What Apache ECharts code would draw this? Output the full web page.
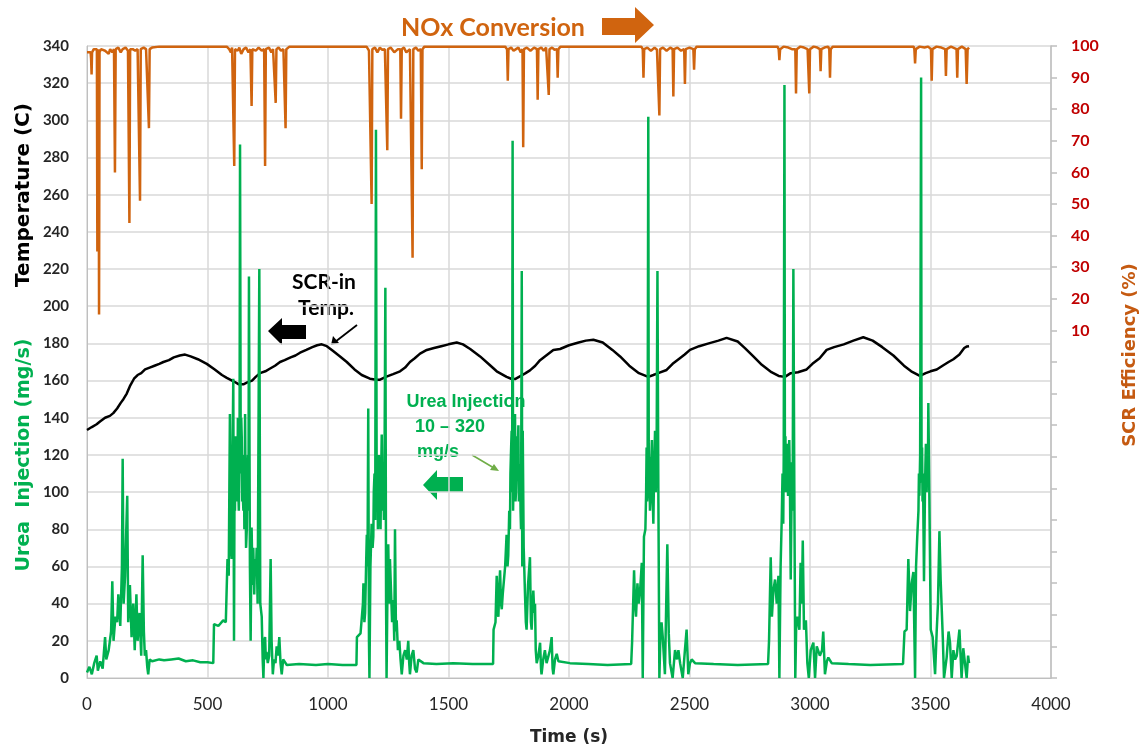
<!DOCTYPE html>
<html><head><meta charset="utf-8">
<script src="https://cdn.jsdelivr.net/npm/echarts@6/dist/echarts.min.js"></script>
<style>html,body{margin:0;padding:0;background:#fff}#c{width:1146px;height:751px}</style>
</head><body><div id="c"></div>
<script>
// ---- data (time s, value) ----
const timeTicks = [0,500,1000,1500,2000,2500,3000,3500,4000];
const tempLabels = [0,20,40,60,80,100,120,140,160,180,200,220,240,260,280,300,320,340];
const effLabels = [10,20,30,40,50,60,70,80,90,100];

const tempData = [[0,133.4],[20,135],[40,136.5],[54,138],[75,140],[95,141],[109,142.5],[125,145],[140,148],[151,150],[165,153],[178,157],[195,161],[210,163],[225,164],[241,166],[260,167],[280,168],[300,169],[317,170],[340,171],[360,172.5],[385,173.5],[407,174],[430,173],[460,171.5],[497,169],[530,166],[560,163],[580,161.5],[610,159.5],[630,158],[649,158],[665,159],[685,160],[700,162],[718,164],[740,165],[760,166.5],[780,168],[801,170],[820,171],[845,172.5],[865,173.5],[884,175],[910,176.5],[935,178],[955,179],[974,179.5],[995,178.5],[1020,176],[1050,173],[1078,170],[1110,166],[1140,163],[1174,161],[1200,160.5],[1216,160.5],[1240,162],[1270,163.5],[1299,165],[1320,167],[1340,170],[1360,172],[1382,174.5],[1410,176.5],[1440,177.5],[1470,178.5],[1500,179.5],[1534,180.5],[1560,179.5],[1590,177],[1631,173],[1670,168.5],[1700,165],[1741,162],[1760,161],[1776,160.8],[1800,162.5],[1820,164],[1838,165.5],[1860,168],[1880,171],[1900,173],[1935,176.5],[1963,177],[2000,179],[2040,180.5],[2070,181.5],[2101,182],[2140,180.5],[2180,176.5],[2212,173],[2250,168],[2290,164],[2329,162],[2350,163],[2370,164],[2405,165.7],[2430,169],[2460,172],[2480,174],[2502,176.5],[2540,178.5],[2580,180],[2620,181.5],[2654,183],[2700,181],[2730,177.5],[2765,173],[2800,168.5],[2840,164.5],[2870,162.5],[2896,162],[2920,164],[2950,164.5],[2986,166],[3010,169],[3040,172],[3069,176.5],[3100,178],[3140,179.5],[3180,181.5],[3221,183.3],[3260,181.5],[3300,178],[3346,173.5],[3390,168],[3420,165],[3456,162.5],[3480,164],[3500,165],[3526,166],[3550,168],[3575,170],[3595,171.5],[3620,174],[3640,177.5],[3650,178.3],[3660,178.5]];

const ureaData = [[0,3],[10,6],[20,2],[30,8],[40,12],[45,4],[55,9],[65,5],[75,22],[80,10],[90,15],[100,25],[105,52],[110,20],[118,33],[125,30],[130,45],[138,28],[145,60],[148,118],[152,40],[158,55],[163,80],[167,98],[171,30],[178,50],[185,22],[192,40],[198,15],[205,45],[210,20],[218,35],[225,12],[231,66],[236,25],[240,12],[245,15],[250,6],[254,2],[260,10],[270,9],[300,10],[320,9.5],[350,10],[380,10.5],[410,9],[440,9.5],[470,8.5],[500,8.5],[524,8],
[527,29],[545,28],[565,31],[576,30],[579,45],[583,64],[588,55],[593,142],[597,70],[600,64],[602,110],[604,120],[607,161],[610,20],[612,100],[614,90],[617,130],[621,115],[624,95],[626,140],[628,100],[630,90],[633,125],[635,287],[638,110],[640,140],[642,130],[644,95],[646,100],[649,90],[651,120],[653,80],[656,142],[658,100],[660,70],[663,80],[665,110],[668,120],[670,90],[672,216],[676,60],[679,20],[683,81],[687,50],[690,70],[694,45],[697,64],[701,55],[704,70],[708,40],[715,220],[719,40],[725,33],[729,10],[732,0],[736,20],[739,22],[742,10],[745,14],[750,8],[756,12],[762,64],[766,20],[771,2],[776,10],[782,8],[787,17],[792,12],[798,22],[803,8],[808,2],[814,10],[822,9],[829,7],
[880,7.5],[950,7],[1000,7.5],[1060,7],[1118,7],
[1120,22],[1135,24],[1142,25],[1145,40],[1147,51],[1151,30],[1154,35],[1158,60],[1161,77],[1164,60],[1167,145],[1170,20],[1172,0],[1176,60],[1181,83],[1185,70],[1188,76],[1190,100],[1193,110],[1196,85],[1199,295],[1202,100],[1205,115],[1207,80],[1209,90],[1211,120],[1213,98],[1216,110],[1218,80],[1220,105],[1223,131],[1226,90],[1228,115],[1230,108],[1232,85],[1234,100],[1238,210],[1241,40],[1243,0],[1247,50],[1250,72],[1254,40],[1257,64],[1262,45],[1266,30],[1271,42],[1275,20],[1278,80],[1282,25],[1285,31],[1290,15],[1296,20],[1301,10],[1306,2],[1313,12],[1320,15],[1327,10],[1333,20],[1337,8],[1340,2],[1347,12],[1354,15],[1361,5],[1368,3],[1375,10],[1382,9],[1396,8],
[1450,7.5],[1520,8],[1600,7.5],[1685,7.5],
[1687,26],[1695,30],[1700,55],[1704,35],[1707,33],[1711,50],[1714,58],[1718,40],[1721,37],[1725,45],[1728,44],[1735,60],[1741,77],[1745,60],[1748,66],[1752,90],[1755,80],[1757,110],[1759,120],[1762,133],[1764,100],[1766,289],[1768,90],[1770,110],[1772,125],[1774,140],[1776,142],[1778,95],[1780,100],[1783,101],[1785,130],[1787,120],[1790,136],[1792,95],[1794,100],[1797,115],[1799,90],[1801,80],[1804,219],[1806,60],[1808,133],[1812,70],[1817,47],[1821,30],[1824,26],[1830,50],[1838,65],[1842,30],[1845,26],[1849,40],[1852,47],[1856,35],[1859,40],[1862,15],[1866,8],[1873,12],[1880,19],[1884,5],[1886,2],[1893,10],[1900,15],[1907,8],[1914,8],[1921,15],[1928,22],[1932,5],[1935,2],[1942,10],[1949,13],[1956,9],[1963,8],
[2004,8],[2080,7.5],[2160,7],[2258,7.5],
[2262,20],[2270,58],[2274,40],[2278,33],[2284,51],[2289,40],[2295,47],[2302,62],[2306,0],[2311,76],[2317,80],[2320,100],[2322,124],[2324,95],[2326,100],[2329,302],[2331,110],[2333,119],[2336,90],[2339,98],[2341,115],[2344,128],[2347,100],[2350,83],[2353,110],[2357,133],[2360,100],[2362,120],[2364,133],[2367,219],[2371,94],[2375,0],[2380,26],[2384,30],[2389,22],[2398,2],[2408,72],[2414,24],[2419,8],[2430,0],[2440,15],[2448,10],[2454,15],[2461,8],[2472,0],[2481,15],[2488,26],[2495,2],[2502,8],[2509,10],[2523,8],
[2600,7.5],[2700,7],[2826,7.5],
[2830,20],[2837,65],[2842,33],[2848,47],[2855,53],[2862,40],[2869,55],[2873,0],[2878,60],[2883,87],[2886,110],[2889,83],[2891,120],[2894,319],[2896,105],[2898,130],[2900,100],[2903,126],[2906,110],[2909,98],[2911,120],[2914,128],[2917,100],[2920,53],[2925,116],[2928,90],[2931,220],[2935,101],[2939,0],[2943,30],[2947,33],[2956,26],[2961,62],[2966,40],[2970,74],[2975,26],[2983,31],[2989,8],[2995,0],[3003,15],[3014,19],[3021,0],[3028,17],[3041,12],[3050,15],[3055,25],[3062,2],[3070,9],[3076,11],[3090,8],
[3160,7.5],[3250,7],[3386,7.5],
[3392,25],[3401,26],[3408,64],[3415,36],[3422,51],[3429,57],[3436,0],[3440,60],[3445,76],[3450,90],[3452,110],[3454,98],[3457,120],[3461,323],[3463,105],[3465,124],[3467,95],[3469,110],[3471,80],[3473,52],[3477,100],[3479,115],[3481,126],[3484,100],[3487,120],[3489,105],[3491,148],[3495,101],[3501,26],[3509,22],[3519,2],[3526,26],[3531,40],[3537,79],[3542,53],[3551,22],[3556,0],[3567,11],[3575,25],[3581,19],[3588,0],[3595,15],[3602,10],[3609,12],[3620,26],[3629,0],[3636,16],[3643,8],[3650,0],[3656,12],[3660,8]];

const noxData = [[0,98],[8,98.5],[15,98],[17,96],[19,91],[21,98],[28,99],[35,99.5],[41,99],[43,35],[45,98],[48,99],[50,15],[52,98],[58,99],[66,99.5],[75,98.5],[82,99],[90,97.5],[96,99],[105,98],[112,99],[116,60],[119,99],[130,99.5],[140,98],[148,99],[160,99.5],[170,98.5],[176,44],[179,99],[190,99],[200,98.5],[210,99],[220,51],[223,99],[235,99.5],[245,99],[252,98.5],[257,74],[260,99],[270,99.5],[300,99.8],[450,99.8],[580,99.8],[590,99],[597,98],[602,99.5],[608,99],[611,62],[614,99],[625,98.5],[632,99.5],[640,97.5],[650,99],[660,99.5],[670,98],[678,99],[683,81],[686,99],[700,98.5],[712,99.5],[725,98.5],[735,99],[739,62],[742,99],[755,99.5],[765,98],[772,99],[780,98.5],[783,82],[786,99],[795,99.5],[805,98.5],[815,99],[821,99],[824,74],[827,99],[840,99.8],[1000,99.8],
[1160,99.8],[1170,98.5],[1175,99],[1181,50],[1184,99],[1195,99.5],[1205,98],[1215,99.5],[1225,98.8],[1236,99],[1243,99],[1246,67],[1249,99],[1260,99.5],[1275,98],[1290,99],[1300,99],[1303,77],[1306,99],[1315,99.5],[1325,98],[1340,99],[1348,99],[1351,33],[1354,99],[1365,99.5],[1375,98.5],[1385,99],[1389,61],[1392,99],[1400,99.8],[1600,99.8],
[1735,99.8],[1743,99],[1746,89],[1749,99],[1760,99.5],[1770,98.5],[1780,99],[1790,99.5],[1800,98],[1807,99],[1810,68],[1813,99],[1825,99.5],[1840,98.5],[1855,99.5],[1867,99],[1870,83],[1873,99],[1885,99.5],[1895,98.5],[1905,99.5],[1913,99],[1916,84.5],[1919,99],[1930,99.5],[1940,98.8],[1950,99],[1953,90],[1956,99],[1965,99.8],[2150,99.8],
[2300,99.8],[2306,99],[2309,90],[2312,99],[2325,99.5],[2340,98.5],[2355,99.5],[2365,98.8],[2372,99],[2375,78],[2378,99],[2390,99.5],[2405,98.5],[2420,99.5],[2430,99],[2433,84],[2436,99],[2450,99.5],[2465,98.5],[2478,99],[2481,88],[2484,99],[2500,99.5],[2516,99],[2519,92.5],[2522,99],[2530,99.8],[2700,99.8],
[2865,99.8],[2870,99],[2873,95.5],[2876,99],[2890,99.8],[2910,99.5],[2925,99],[2939,99],[2942,85],[2945,99],[2960,99.8],[2975,99.5],[2990,99],[2994,99],[2997,85],[3000,99],[3015,99.8],[3030,99.5],[3041,99],[3044,92],[3047,99],[3060,99.5],[3075,99.8],[3080,99],[3083,90],[3086,99],[3095,99.8],[3250,99.8],
[3430,99.8],[3433,99],[3436,94.5],[3439,99],[3455,99.8],[3475,99.5],[3490,99.8],[3502,99],[3505,89],[3508,99],[3525,99.8],[3545,99.5],[3561,99],[3564,90.5],[3567,99],[3585,99.8],[3608,99],[3611,90],[3614,99],[3630,99.8],[3646,99],[3650,88],[3654,99],[3660,99.5]];

// ---- chart ----
const FONT = 'Lato, "Open Sans", sans-serif';
const WIDE = '"DejaVu Sans", sans-serif';
const ARIAL = '"Liberation Sans", Arial, sans-serif';
const chart = echarts.init(document.getElementById('c'), null, {renderer:'canvas'});
const green = '#00B050', orange = '#D0640F', red = '#C00000';
chart.setOption({
  animation:false,
  backgroundColor:'#fff',
  grid:{left:87, right:95, top:46, bottom:73},
  xAxis:{type:'value', min:timeTicks[0], max:timeTicks[timeTicks.length-1], interval:500,
    axisLine:{show:true, lineStyle:{color:'#bfbfbf', width:1}}, axisTick:{show:false},
    axisLabel:{color:'#262626', fontFamily:FONT, fontSize:17, margin:18, formatter: v => String(v)},
    splitLine:{show:true, lineStyle:{color:'#d9d9d9', width:1.5}}},
  yAxis:[
    {type:'value', min:tempLabels[0], max:tempLabels[tempLabels.length-1], interval:20,
     axisLine:{show:true, lineStyle:{color:'#bfbfbf'}}, axisTick:{show:false},
     axisLabel:{color:'#262626', fontFamily:FONT, fontWeight:'bold', fontSize:15, margin:18},
     splitLine:{show:true, lineStyle:{color:'#d9d9d9', width:1.5}}},
    {type:'value', position:'right', min:-100, max:effLabels[effLabels.length-1], interval:10,
     axisLine:{show:true, lineStyle:{color:'#bfbfbf', width:1.5}},
     axisTick:{show:true, inside:false, length:6, lineStyle:{color:'#bfbfbf', width:1.5}},
     axisLabel:{color:red, fontFamily:FONT, fontWeight:'bold', fontSize:16, margin:20,
       formatter: v => effLabels.indexOf(v) >= 0 ? String(v) : ''},
     splitLine:{show:false}}
  ],
  series:[
    {name:'NOx Conversion', type:'line', yAxisIndex:1, data:noxData, showSymbol:false, symbol:'none',
     lineStyle:{color:orange, width:2.5}, z:2},
    {name:'SCR-in Temp', type:'line', yAxisIndex:0, data:tempData, showSymbol:false, symbol:'none',
     lineStyle:{color:'#000', width:2.5}, z:3},
    {name:'Urea Injection', type:'line', yAxisIndex:0, data:ureaData, showSymbol:false, symbol:'none',
     lineStyle:{color:green, width:2.5}, z:4}
  ],
  graphic:[
    {type:'text', x:24, y:195, rotation:Math.PI/2, style:{text:'Temperature (C)', fill:'#000', font:'bold 20px '+WIDE, align:'center', verticalAlign:'middle'}},
    {type:'text', x:24, y:455, rotation:Math.PI/2, style:{text:'Urea  Injection (mg/s)', fill:green, font:'bold 19px '+WIDE, align:'center', verticalAlign:'middle'}},
    {type:'text', x:1130, y:355, rotation:Math.PI/2, style:{text:'SCR Efficiency (%)', fill:'#C55A11', font:'bold 18px '+WIDE, align:'center', verticalAlign:'middle'}},
    {type:'text', x:569, y:738, style:{text:'Time (s)', fill:'#262626', font:'bold 17px '+WIDE, align:'center', verticalAlign:'middle'}},
    {type:'text', x:493, y:28, style:{text:'NOx Conversion', fill:orange, font:'bold 25px '+FONT, align:'center', verticalAlign:'middle'}},
    {type:'polygon', shape:{points:[[602,18],[635,18],[635,7],[654,25],[635,43],[635,35],[602,35]]}, style:{fill:orange}},
    {type:'text', x:324, y:282, style:{text:'SCR-in', fill:'#000', font:'bold 21px '+FONT, align:'center', verticalAlign:'middle'}},
    {type:'text', x:326, y:308, style:{text:'Temp.', fill:'#000', font:'bold 21px '+FONT, align:'center', verticalAlign:'middle'}},
    {type:'polygon', shape:{points:[[268,331],[282,318],[282,325],[306,325],[306,339],[282,339],[282,345]]}, style:{fill:'#000'}},
    {type:'line', shape:{x1:357, y1:325, x2:335, y2:342}, style:{stroke:'#000', lineWidth:1.8}},
    {type:'polygon', shape:{points:[[331,345],[333,336],[339,343]]}, style:{fill:'#000'}},
    {type:'text', x:466, y:402, style:{text:'Urea Injection', fill:green, font:'bold 18px '+ARIAL, align:'center', verticalAlign:'middle'}},
    {type:'text', x:450, y:427, style:{text:'10 \u2013 320', fill:green, font:'bold 18px '+ARIAL, align:'center', verticalAlign:'middle'}},
    {type:'text', x:438, y:452, style:{text:'mg/s', fill:green, font:'bold 18px '+ARIAL, align:'center', verticalAlign:'middle'}},
    {type:'polygon', shape:{points:[[423,485],[437,470],[437,477],[463,477],[463,492],[437,492],[437,500]]}, style:{fill:green}},
    {type:'line', shape:{x1:472, y1:455, x2:494, y2:468}, style:{stroke:'#70AD47', lineWidth:1.5}},
    {type:'polygon', shape:{points:[[499,471],[490,470],[494,464]]}, style:{fill:'#70AD47'}}
  ]
});
</script></body></html>
